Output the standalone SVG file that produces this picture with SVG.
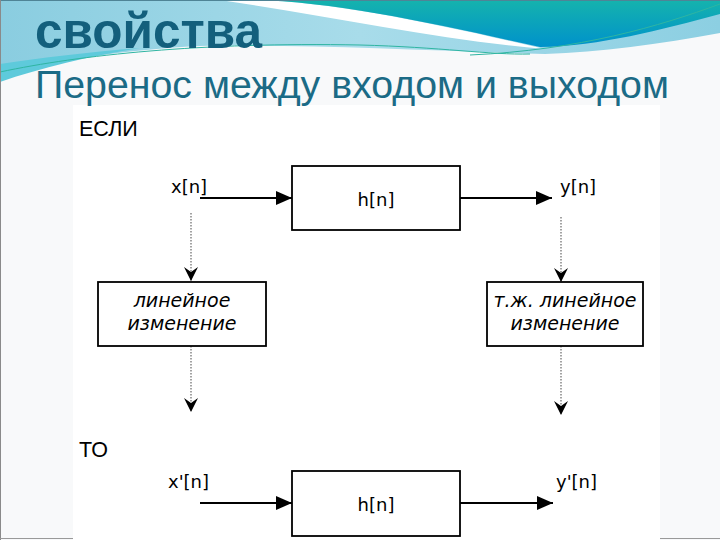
<svg xmlns="http://www.w3.org/2000/svg" width="720" height="540" viewBox="0 0 720 540">
<defs>
<linearGradient id="lb" x1="0" y1="0" x2="1" y2="0">
<stop offset="0" stop-color="#8acde0"/>
<stop offset="0.5" stop-color="#a8dcea"/>
<stop offset="1" stop-color="#8ccfe2"/>
</linearGradient>
<linearGradient id="dk" x1="0" y1="0" x2="0" y2="1">
<stop offset="0" stop-color="#15b3ad"/>
<stop offset="1" stop-color="#0092cb"/>
</linearGradient>
<marker id="sol" viewBox="0 0 16 14" refX="16" refY="7" markerWidth="16" markerHeight="14" markerUnits="userSpaceOnUse" orient="auto">
<path d="M0,0 L16,7 L0,14 Z" fill="#000"/>
</marker>
<marker id="dot" viewBox="0 0 14 14" refX="14" refY="7" markerWidth="14" markerHeight="14" markerUnits="userSpaceOnUse" orient="auto">
<path d="M0,0 L14,7 L0,14 L5,7 Z" fill="#000"/>
</marker>
</defs>
<style>
.box{fill:#fff;stroke:#000;stroke-width:1.8}
.lbl{font-family:"DejaVu Sans",Verdana,sans-serif;font-size:18px;fill:#000}
.it{font-family:"DejaVu Sans",Verdana,sans-serif;font-size:19px;font-style:italic;fill:#000;text-anchor:middle}
.hd{font-family:"Liberation Sans",Arial,sans-serif;font-size:21.5px;fill:#000}
.sol{stroke:#000;stroke-width:1.8;fill:none;marker-end:url(#sol)}
.dt{stroke:#666;stroke-width:1.2;stroke-dasharray:1.5 1.5;fill:none;marker-end:url(#dot)}
</style>
<rect x="0" y="0" width="720" height="540" fill="#f8f9fa"/>
<rect x="73" y="105" width="587" height="435" fill="#ffffff"/>
<g id="banner">
<path d="M0,0 H720 V33 C 660,44 600,52 545,54 C 420,50 300,44 200,46 C 120,50 60,60 0,76 Z" fill="url(#lb)"/>
<path d="M0,64 C 40,58 90,52 140,48 C 90,56 40,68 0,82 Z" fill="#5ecadb"/>
<path d="M220,0 C 330,16 440,40 545,49 C 440,25 330,0 245,0 Z" fill="#ffffff"/>
<path d="M245,0 C 330,0 440,25 540,47 C 600,46 660,30 720,14 V0 Z" fill="url(#dk)"/>
<path d="M0,72 C 80,55 200,42 360,45 C 440,47 490,55 530,54" fill="none" stroke="#2fb5a2" stroke-width="1"/>
<path d="M470,55 C 580,50 660,26 720,4" fill="none" stroke="#2fb5a2" stroke-width="1"/>
</g>
<line x1="0" y1="0.5" x2="720" y2="0.5" stroke="#4f8496" stroke-width="1"/>
<line x1="0.5" y1="0" x2="0.5" y2="540" stroke="#8a8a8a" stroke-width="1"/>
<line x1="0" y1="538.5" x2="73" y2="538.5" stroke="#999" stroke-width="1"/>
<line x1="660" y1="538.5" x2="720" y2="538.5" stroke="#999" stroke-width="1"/>
<g id="title">
<text x="35" y="48" font-family="Liberation Sans,Arial,sans-serif" font-size="49.5" font-weight="bold" fill="#135f7c">свойства</text>
<text x="35" y="98" font-family="Liberation Sans,Arial,sans-serif" font-size="39.3" fill="#1b6b86">Перенос между входом и выходом</text>
</g>
<g id="if"><text class="hd" x="79" y="136">ЕСЛИ</text></g>
<g id="then"><text class="hd" x="79" y="457">ТО</text></g>
<g id="connectors">
<line class="sol" x1="200" y1="198" x2="292" y2="198"/>
<line class="sol" x1="460" y1="198" x2="552" y2="198"/>
<line class="dt" x1="191" y1="213" x2="191" y2="281"/>
<line class="dt" x1="561" y1="217" x2="561" y2="282"/>
<line class="dt" x1="191" y1="346" x2="191" y2="412"/>
<line class="dt" x1="561" y1="346" x2="561" y2="415"/>
<line class="sol" x1="200" y1="503" x2="292" y2="503"/>
<line class="sol" x1="460" y1="503" x2="553" y2="503"/>
</g>
<g id="x-label"><text class="lbl" x="171" y="193">x[n]</text></g>
<g id="y-label"><text class="lbl" x="560" y="193">y[n]</text></g>
<g id="h-top"><rect class="box" x="292" y="166" width="168" height="64"/><text class="lbl" x="376" y="206" text-anchor="middle">h[n]</text></g>
<g id="lin-left"><rect class="box" x="98" y="282" width="168" height="64"/><text class="it" x="182" y="307">линейное</text><text class="it" x="182" y="330">изменение</text></g>
<g id="lin-right"><rect class="box" x="487" y="282" width="156" height="64"/><text class="it" x="565" y="307">т.ж. линейное</text><text class="it" x="565" y="330">изменение</text></g>
<g id="x2-label"><text class="lbl" x="168" y="488">x'[n]</text></g>
<g id="y2-label"><text class="lbl" x="556" y="488">y'[n]</text></g>
<g id="h-bottom"><rect class="box" x="292" y="471" width="168" height="65"/><text class="lbl" x="376" y="511" text-anchor="middle">h[n]</text></g>
</svg>
